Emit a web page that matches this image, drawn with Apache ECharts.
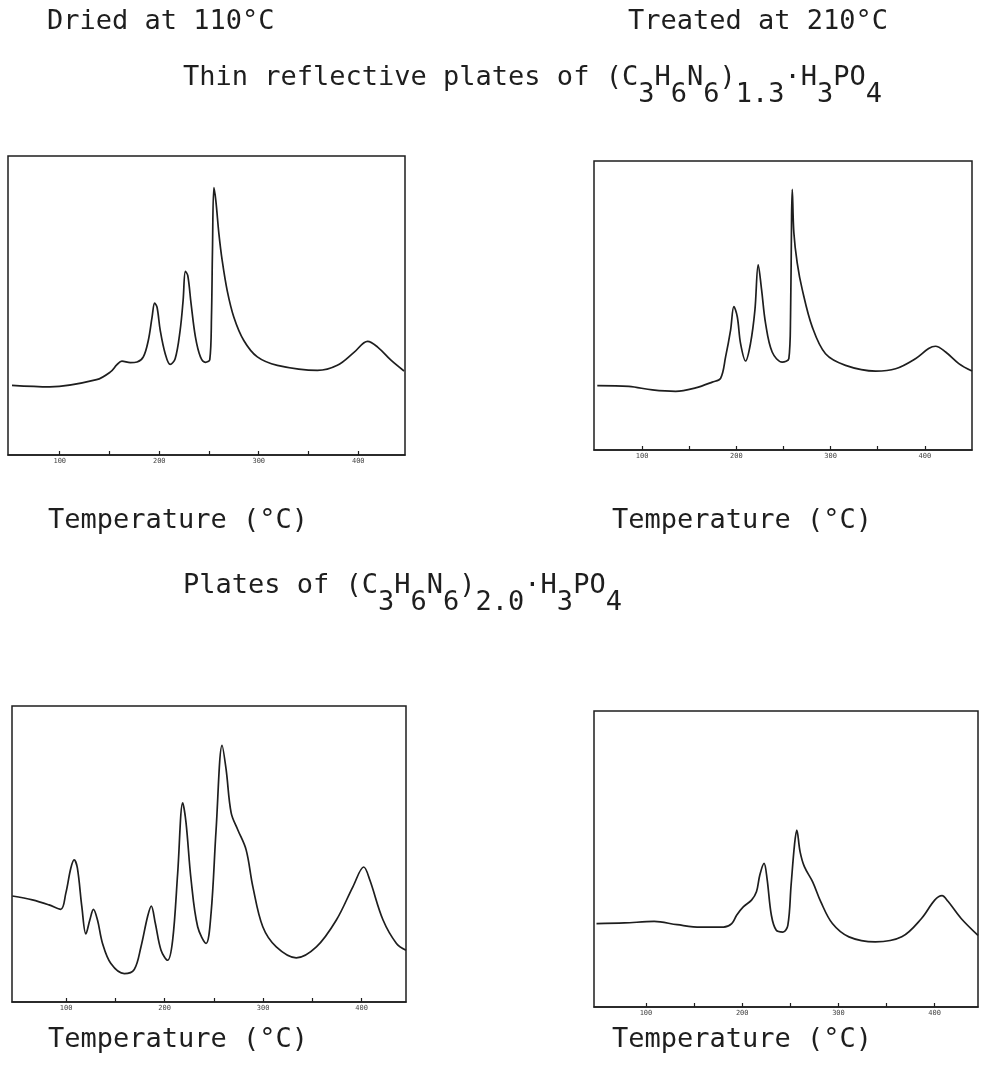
<!DOCTYPE html>
<html>
<head>
<meta charset="utf-8">
<script src="https://cdn.jsdelivr.net/npm/echarts@6/dist/echarts.min.js"></script>
<style>
html,body{margin:0;padding:0;background:#fff;}
#chart{width:985px;height:1066px;}
</style>
</head>
<body>
<div id="chart"></div>
<script>
// Tick positions and labels (temperature, degC)
const tickValues = [100, 150, 200, 250, 300, 350, 400];
const labelValues = [100, 200, 300, 400];

// Panel headings
const colHeadings = ['Dried at 110°C', 'Treated at 210°C'];
const xAxisName = 'Temperature (°C)';

// Traces: [temperature, signal (0-100 of frame height)]
const thinDried = [[52,23.3],[90,22.8],[137,25.2],[151,27.8],[157.5,30.2],[162.5,31.4],[171,30.9],[177.7,31.1],[184,32.8],[189,38.3],[192.8,46.1],[195.4,50.8],[197.8,49.4],[201,41.7],[206,33.9],[211,30.3],[216,32.2],[221,41.7],[224,51.7],[226.3,61.4],[228.7,60],[232,50.6],[236.4,39.4],[241.4,32.8],[246.5,31],[250.8,31.9],[252.5,46.1],[253.5,68.3],[254.9,89.4],[256.9,85],[260,73.9],[263.3,65],[268.3,55],[275,46.1],[285,38.3],[298.6,32.8],[318.7,30],[359,28.3],[379,30],[396,34.4],[409.4,38],[419.5,36.1],[432.9,31.7],[446,28.1]];

const thinTreated = [[52.5,22.3],[86,22],[111,20.8],[135.6,20.3],[156.8,21.5],[174.5,23.5],[183.3,24.8],[188.6,32.2],[193.9,41.5],[197.4,49.6],[201,46.1],[204.5,36.8],[209.8,30.8],[215,36.8],[219.7,48.4],[223.2,64.1],[226.8,55.4],[231,43.8],[238,33.9],[248.7,30.4],[255.7,31.6],[257.5,46.1],[258.6,80.9],[259.3,90.2],[261,75.2],[264.6,64.7],[270,55.4],[280.5,42.6],[294.6,33.3],[315.8,29.3],[347.7,27.3],[368.9,28.1],[390,31.6],[404,35.1],[411.3,35.9],[422,33.9],[436,29.9],[450,27.3]];

const platesDried = [[45.3,35.8],[65.7,34.5],[82.6,32.8],[94.5,31.3],[99.6,36.7],[104.7,45.2],[108.1,48],[111.4,45.2],[115.9,32.2],[120,23],[124,27.7],[127.7,31.3],[131.8,27.7],[136.9,19.8],[145.4,13],[159,9.6],[169.1,11],[175.9,18.6],[182.6,28.8],[186.4,32.4],[190.5,26.6],[196.3,17.5],[203,14.1],[208.1,20.9],[213.2,43.5],[218.3,67.3],[221.7,60.5],[226.8,41.3],[233.5,25.4],[242,19.8],[247.1,30],[252.2,58.2],[258.3,86.7],[262.4,78.5],[267.5,63.9],[274.2,58.2],[282.7,51.4],[289.5,39],[299.6,25.4],[313.3,18.6],[333.6,14.9],[354,18.6],[374.3,27.7],[391.2,39],[402.1,45.6],[408.2,41.3],[421.7,27.7],[435.3,19.8],[445,17.5]];

const platesTreated = [[48.6,28.2],[77.7,28.4],[108.5,28.9],[132.5,27.8],[156.6,27],[180.6,27],[189.1,28.2],[194.2,31],[201.1,33.8],[209.7,36.1],[214.8,38.9],[218.3,44.6],[222.7,48.5],[225.8,43.4],[230.3,31],[235.4,25.9],[242.3,25.3],[247.4,27.6],[250.8,41.2],[254.3,54.7],[256.7,59.8],[260.1,52.5],[264.6,47.4],[273.2,42.3],[281.7,35.5],[293.7,28.2],[310.9,23.7],[338.3,22],[365.8,23.7],[386.3,29.9],[400,36.1],[407.6,37.6],[413.8,35.7],[427.5,29.9],[445,24.2]];

const INK = '#1e1e1e';
const FONT = '"DejaVu Sans Mono", "Liberation Mono", monospace';
const FS = 27;

const panels = [
  {data: thinDried,    grid: {left: 8,   top: 156, width: 397, height: 299}, min: 48, max: 447},
  {data: thinTreated,  grid: {left: 594, top: 161, width: 378, height: 289}, min: 49, max: 450},
  {data: platesDried,  grid: {left: 12,  top: 706, width: 394, height: 296}, min: 45, max: 445},
  {data: platesTreated,grid: {left: 594, top: 711, width: 384, height: 296}, min: 46, max: 445}
];

const grids = [], xAxes = [], yAxes = [], series = [];
panels.forEach((p, i) => {
  grids.push(Object.assign({show: true, borderColor: INK, borderWidth: 1.5, backgroundColor: 'transparent'}, p.grid));
  xAxes.push({
    type: 'value', gridIndex: i, min: p.min, max: p.max,
    axisLine: {show: true, lineStyle: {color: INK, width: 1.5}},
    axisTick: {show: true, inside: true, length: 4, customValues: tickValues, lineStyle: {color: INK, width: 1.2}},
    axisLabel: {show: true, customValues: labelValues, fontSize: 7, color: '#444', margin: 3, fontFamily: FONT},
    splitLine: {show: false}
  });
  yAxes.push({type: 'value', gridIndex: i, min: 0, max: 100, show: false});
  series.push({
    type: 'line', xAxisIndex: i, yAxisIndex: i, data: p.data,
    showSymbol: false, smooth: 0.35,
    lineStyle: {color: INK, width: 1.7}, silent: true, animation: false
  });
});

const mainStyle = {fontSize: FS, fontFamily: FONT, color: INK, lineHeight: 30, verticalAlign: 'top'};
const subStyle = {fontSize: FS, fontFamily: FONT, color: INK, lineHeight: 44, verticalAlign: 'bottom'};

function formula(prefix, ratio) {
  return '{n|' + prefix + '(C}{s|3}{n|H}{s|6}{n|N}{s|6}{n|)}{s|' + ratio + '}{n|·H}{s|3}{n|PO}{s|4}';
}

function plain(text, left, top) {
  return {type: 'text', left: left, top: top, silent: true,
    style: {text: text, font: FS + 'px ' + FONT, fill: INK}};
}
function rich(text, left, top) {
  return {type: 'text', left: left, top: top, silent: true,
    style: {text: text, fill: INK, rich: {n: mainStyle, s: subStyle}}};
}

const option = {
  backgroundColor: '#fff',
  animation: false,
  grid: grids, xAxis: xAxes, yAxis: yAxes, series: series,
  graphic: [
    plain(colHeadings[0], 47, 8),
    plain(colHeadings[1], 628, 8),
    rich(formula('Thin reflective plates of ', '1.3'), 183, 64),
    plain(xAxisName, 48, 507),
    plain(xAxisName, 612, 507),
    rich(formula('Plates of ', '2.0'), 183, 572),
    plain(xAxisName, 48, 1026),
    plain(xAxisName, 612, 1026)
  ]
};

const chart = echarts.init(document.getElementById('chart'), null, {renderer: 'canvas'});
chart.setOption(option);
</script>
</body>
</html>
